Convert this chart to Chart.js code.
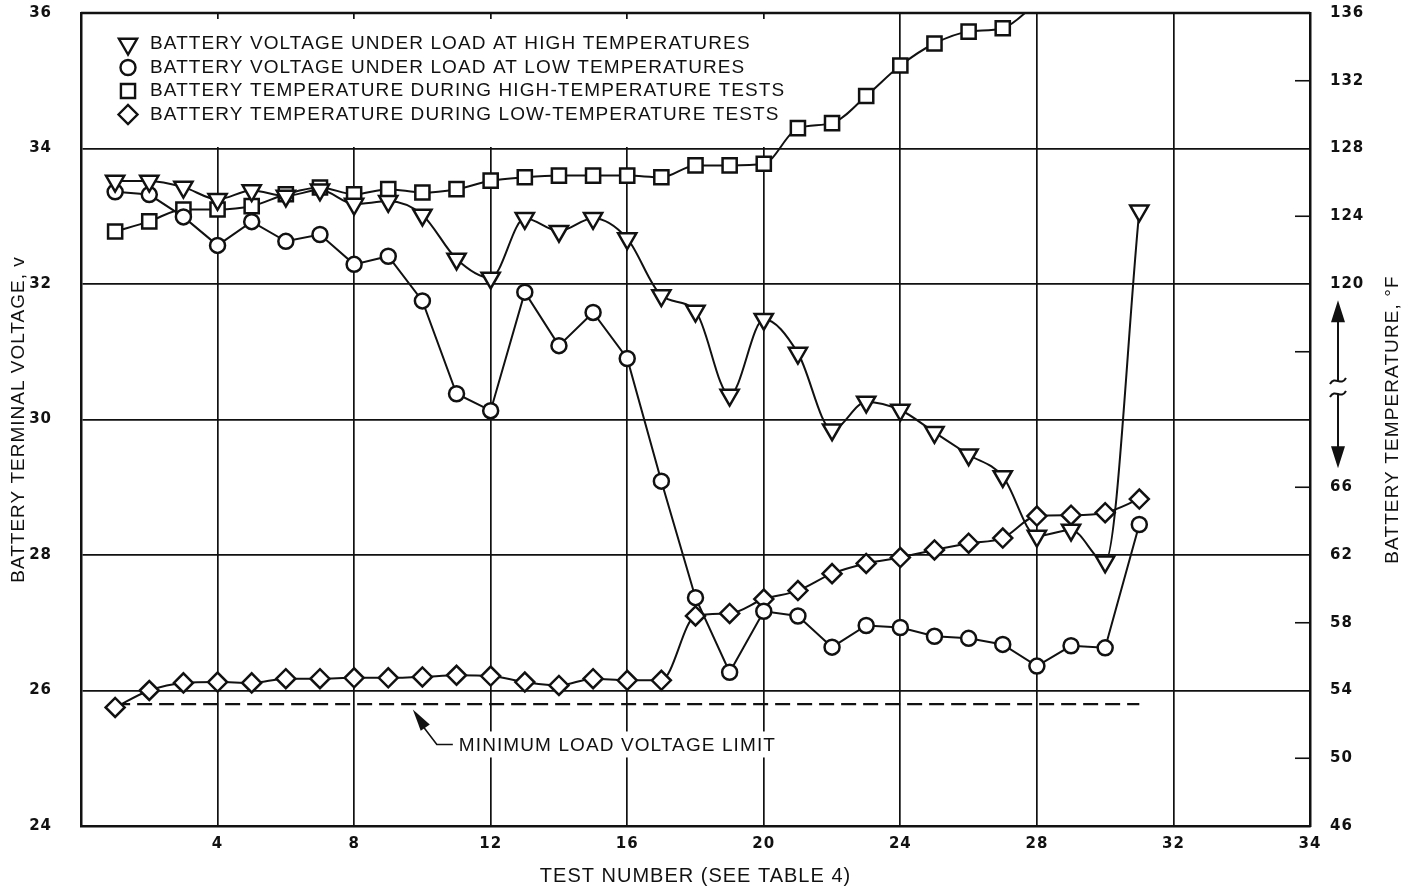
<!DOCTYPE html>
<html>
<head>
<meta charset="utf-8">
<script src="https://cdn.jsdelivr.net/npm/chart.js@4.4.1/dist/chart.umd.min.js"></script>
<style>
	html, body { margin: 0; padding: 0; background: #fff; }
	#wrap { width: 1411px; height: 890px; }
</style>
</head>
<body>
<div id="wrap"><canvas id="batteryChart" width="1411" height="890"></canvas></div>
<script>
const TEST_NUMBERS = [1, 2, 3, 4, 5, 6, 7, 8, 9, 10, 11, 12, 13, 14, 15, 16, 17, 18, 19, 20, 21, 22, 23, 24, 25, 26, 27, 28, 29, 30, 31];
const VOLTS_HIGH_TEMP = [33.52, 33.52, 33.43, 33.25, 33.38, 33.30, 33.39, 33.18, 33.22, 33.02, 32.37, 32.09, 32.97, 32.78, 32.97, 32.67, 31.83, 31.60, 30.36, 31.48, 30.98, 29.85, 30.26, 30.14, 29.81, 29.48, 29.16, 28.28, 28.37, 27.90, 33.08];
const VOLTS_LOW_TEMP = [33.36, 33.32, 32.99, 32.57, 32.92, 32.63, 32.73, 32.29, 32.41, 31.75, 30.38, 30.13, 31.88, 31.09, 31.58, 30.90, 29.09, 27.37, 26.27, 27.17, 27.10, 26.64, 26.96, 26.93, 26.80, 26.77, 26.68, 26.36, 26.66, 26.63, 28.45];
// deg F, high-temperature tests (last point runs off the top of the scale)
const TEMP_HIGH_TESTS = [123.1, 123.7, 124.4, 124.4, 124.6, 125.3, 125.7, 125.3, 125.6, 125.4, 125.6, 126.1, 126.3, 126.4, 126.4, 126.4, 126.3, 127.0, 127.0, 127.1, 129.2, 129.5, 131.1, 132.9, 134.2, 134.9, 135.1, 136.6];
// deg F, low-temperature tests
const TEMP_LOW_TESTS = [53.0, 54.0, 54.45, 54.5, 54.45, 54.7, 54.7, 54.75, 54.75, 54.8, 54.9, 54.85, 54.5, 54.3, 54.7, 54.6, 54.6, 58.4, 58.55, 59.4, 59.9, 60.9, 61.5, 61.85, 62.3, 62.7, 63.0, 64.3, 64.35, 64.5, 65.3];
const LIMIT_TESTS = [1, 31];
const LIMIT_VOLTS = [25.8, 25.8];

// the right frame edge carries the label "34" on the original sheet
const X_TICKS = [4, 8, 12, 16, 20, 24, 28, 32, 36];
const X_TICK_LABELS = ['4', '8', '12', '16', '20', '24', '28', '32', '34'];
const VOLT_TICKS = [24, 26, 28, 30, 32, 34, 36];
const TEMP_TICK_POS = [24, 25, 26, 27, 28, 29, 30, 31, 32, 33, 34, 35, 36];
const TEMP_TICK_LABELS = ['46', '50', '54', '58', '62', '66', '', '', '120', '124', '128', '132', '136'];

const LEGEND_LABELS = [
	'BATTERY VOLTAGE UNDER LOAD AT HIGH TEMPERATURES',
	'BATTERY VOLTAGE UNDER LOAD AT LOW TEMPERATURES',
	'BATTERY TEMPERATURE DURING HIGH-TEMPERATURE TESTS',
	'BATTERY TEMPERATURE DURING LOW-TEMPERATURE TESTS',
];
const LIMIT_LABEL = 'MINIMUM LOAD VOLTAGE LIMIT';
const TEMP_AXIS_TITLE = 'BATTERY TEMPERATURE, °F';

const INK = '#111';
const TEXT_FAMILY = '"Liberation Sans", Arial, sans-serif';
const TEXT_FONT = '19px ' + TEXT_FAMILY;
const TICK_FONT = { family: '"DejaVu Sans", sans-serif', size: 15, weight: 'bold' };

// broken temperature scale: 46-66 F on the lower half, 120-136 F on the upper half
function tempToAxis(t) {
	return t >= 100 ? 32 + (t - 120) / 4 : 24 + (t - 46) / 4;
}

function toPoints(xs, ys, map) {
	return ys.map((y, i) => ({ x: xs[i], y: map ? map(y) : y }));
}

const MARKERS = [
	{ pointStyle: 'triangle', rotation: 180, radius: 10.5 },
	{ pointStyle: 'circle', rotation: 0, radius: 7.5 },
	{ pointStyle: 'rect', rotation: 0, radius: 10 },
	{ pointStyle: 'rectRot', rotation: 0, radius: 9.5 },
];

function seriesStyle(marker, extra) {
	return Object.assign({
		borderColor: INK,
		borderWidth: 2,
		backgroundColor: '#fff',
		pointBackgroundColor: '#fff',
		pointBorderColor: INK,
		pointBorderWidth: 2.5,
		pointStyle: marker.pointStyle,
		pointRotation: marker.rotation,
		pointRadius: marker.radius,
		fill: false,
	}, extra);
}

function dropPadding(s, width) {
	s.width = width;
	s.paddingTop = 0;
	s.paddingBottom = 0;
}

const decorPlugin = {
	id: 'decor',
	beforeDraw(chart) {
		chart.ctx.letterSpacing = '1px';
	},
	beforeDatasetsDraw(chart) {
		const { ctx, chartArea: a, scales } = chart;
		ctx.save();
		// legend panel hides the grid behind it
		ctx.fillStyle = '#fff';
		ctx.fillRect(a.left + 17, a.top + 6, 702, 128);
		// label background for the limit note
		const tipX = scales.x.getPixelForValue(9.72);
		const tipY = scales.y.getPixelForValue(25.72);
		ctx.fillRect(tipX + 40, tipY + 22, 330, 26);
		// top frame
		ctx.strokeStyle = INK;
		ctx.lineWidth = 2.5;
		ctx.beginPath();
		ctx.moveTo(a.left, a.top);
		ctx.lineTo(a.right, a.top);
		ctx.stroke();
		// inward ticks on the temperature axis
		ctx.lineWidth = 1.6;
		TEMP_TICK_POS.forEach(v => {
			if (v % 2 === 0) return;
			const py = scales.y2.getPixelForValue(v);
			ctx.beginPath();
			ctx.moveTo(a.right - 15, py);
			ctx.lineTo(a.right, py);
			ctx.stroke();
		});
		ctx.restore();
	},
	afterDatasetsDraw(chart) {
		const { ctx, chartArea: a, scales } = chart;
		ctx.save();
		ctx.letterSpacing = '1.1px';
		ctx.font = TEXT_FONT;
		ctx.fillStyle = INK;
		ctx.textBaseline = 'middle';

		// legend
		LEGEND_LABELS.forEach((label, i) => {
			const y = a.top + 30 + i * 23.5;
			const m = MARKERS[i];
			ctx.fillStyle = '#fff';
			ctx.strokeStyle = INK;
			ctx.lineWidth = 2.4;
			Chart.helpers.drawPoint(ctx, {
				pointStyle: m.pointStyle,
				rotation: m.rotation,
				radius: m.radius,
				borderWidth: 2.4,
			}, a.left + 47, y + 1);
			ctx.fillStyle = INK;
			ctx.fillText(label, a.left + 69, y + 1);
		});

		// minimum load voltage note with leader arrow
		const tipX = scales.x.getPixelForValue(9.72);
		const tipY = scales.y.getPixelForValue(25.72);
		const bendX = tipX + 24, bendY = tipY + 35;
		ctx.strokeStyle = INK;
		ctx.lineWidth = 1.6;
		ctx.beginPath();
		ctx.moveTo(tipX + 8, tipY + 14);
		ctx.lineTo(bendX, bendY);
		ctx.lineTo(bendX + 16, bendY);
		ctx.stroke();
		const ang = Math.atan2(bendY - tipY, bendX - tipX);
		const hl = 22, hw = 5.5;
		const bx = tipX + Math.cos(ang) * hl, by = tipY + Math.sin(ang) * hl;
		ctx.beginPath();
		ctx.moveTo(tipX, tipY);
		ctx.lineTo(bx - Math.sin(ang) * hw, by + Math.cos(ang) * hw);
		ctx.lineTo(bx + Math.sin(ang) * hw, by - Math.cos(ang) * hw);
		ctx.closePath();
		ctx.fill();
		ctx.fillText(LIMIT_LABEL, bendX + 22, bendY + 1);

		// scale-break arrow beside the temperature axis
		const ax = a.right + 28;
		const yUp = scales.y2.getPixelForValue(31.76);
		const yDown = scales.y2.getPixelForValue(29.28);
		const yBreak = scales.y2.getPixelForValue(30.48);
		ctx.lineWidth = 2;
		ctx.beginPath();
		ctx.moveTo(ax, yUp + 15);
		ctx.lineTo(ax, yBreak - 6);
		ctx.moveTo(ax, yBreak + 7);
		ctx.lineTo(ax, yDown - 15);
		ctx.stroke();
		[yBreak - 6, yBreak + 7].forEach(sy => {
			ctx.beginPath();
			ctx.moveTo(ax - 8, sy + 3);
			ctx.bezierCurveTo(ax - 3, sy - 6, ax + 3, sy + 6, ax + 8, sy - 3);
			ctx.stroke();
		});
		ctx.beginPath();
		ctx.moveTo(ax, yUp);
		ctx.lineTo(ax - 7, yUp + 22);
		ctx.lineTo(ax + 7, yUp + 22);
		ctx.closePath();
		ctx.moveTo(ax, yDown);
		ctx.lineTo(ax - 7, yDown - 22);
		ctx.lineTo(ax + 7, yDown - 22);
		ctx.closePath();
		ctx.fill();

		// temperature axis title, read bottom to top like the left one
		ctx.translate(chart.width - 18, (a.top + a.bottom) / 2);
		ctx.rotate(-Math.PI / 2);
		ctx.textAlign = 'center';
		ctx.font = '19px ' + TEXT_FAMILY;
		ctx.fillText(TEMP_AXIS_TITLE, 0, 0);
		ctx.restore();
	},
};

const ctx = document.getElementById('batteryChart').getContext('2d');

const batteryChart = new Chart(ctx, {
	type: 'line',
	data: {
		datasets: [
			seriesStyle(MARKERS[0], {
				label: 'Voltage, high temperatures',
				data: toPoints(TEST_NUMBERS, VOLTS_HIGH_TEMP),
				yAxisID: 'y',
				cubicInterpolationMode: 'monotone',
			}),
			seriesStyle(MARKERS[1], {
				label: 'Voltage, low temperatures',
				data: toPoints(TEST_NUMBERS, VOLTS_LOW_TEMP),
				yAxisID: 'y',
				tension: 0,
			}),
			seriesStyle(MARKERS[2], {
				label: 'Temperature, high-temperature tests',
				data: toPoints(TEST_NUMBERS, TEMP_HIGH_TESTS, tempToAxis),
				yAxisID: 'y2',
				cubicInterpolationMode: 'monotone',
			}),
			seriesStyle(MARKERS[3], {
				label: 'Temperature, low-temperature tests',
				data: toPoints(TEST_NUMBERS, TEMP_LOW_TESTS, tempToAxis),
				yAxisID: 'y2',
				cubicInterpolationMode: 'monotone',
			}),
			{
				label: 'Minimum load voltage limit',
				data: toPoints(LIMIT_TESTS, LIMIT_VOLTS),
				yAxisID: 'y',
				borderColor: INK,
				borderWidth: 2.2,
				borderDash: [15, 7],
				pointRadius: 0,
				fill: false,
			},
		],
	},
	options: {
		responsive: false,
		animation: false,
		layout: { padding: { top: 8, left: 0, right: 0, bottom: 0 } },
		plugins: {
			legend: { display: false },
			tooltip: { enabled: false },
		},
		scales: {
			x: {
				type: 'linear',
				min: 0,
				max: 36,
				afterBuildTicks: s => { s.ticks = X_TICKS.map(v => ({ value: v })); },
				afterFit: s => { s.height = 64; s.paddingLeft = 0; s.paddingRight = 0; },
				grid: { color: INK, lineWidth: 1.7, drawTicks: false },
				border: { color: INK, width: 2.5 },
				ticks: {
					color: INK,
					font: TICK_FONT,
					padding: 9,
					maxRotation: 0,
					autoSkip: false,
					callback: (value, index) => X_TICK_LABELS[index],
				},
				title: {
					display: true,
					text: 'TEST NUMBER (SEE TABLE 4)',
					color: INK,
					font: { family: TEXT_FAMILY, size: 20 },
					padding: { bottom: 2 },
				},
			},
			y: {
				position: 'left',
				min: 24,
				max: 36,
				afterBuildTicks: s => { s.ticks = VOLT_TICKS.map(v => ({ value: v })); },
				afterFit: s => dropPadding(s, 81),
				grid: { color: INK, lineWidth: 1.7, drawTicks: false },
				border: { color: INK, width: 2.5 },
				ticks: { color: INK, font: TICK_FONT, padding: 29 },
				title: {
					display: true,
					text: 'BATTERY TERMINAL VOLTAGE, v',
					color: INK,
					font: { family: TEXT_FAMILY, size: 19 },
					padding: { top: 7 },
				},
			},
			y2: {
				position: 'right',
				min: 24,
				max: 36,
				afterBuildTicks: s => { s.ticks = TEMP_TICK_POS.map(v => ({ value: v })); },
				afterFit: s => dropPadding(s, 101),
				grid: { drawOnChartArea: false, drawTicks: false },
				border: { color: INK, width: 2.5 },
				ticks: {
					color: INK,
					font: TICK_FONT,
					padding: 20,
					autoSkip: false,
					callback: (value, index) => TEMP_TICK_LABELS[index],
				},
			},
		},
	},
	plugins: [decorPlugin],
});
</script>
</body>
</html>
